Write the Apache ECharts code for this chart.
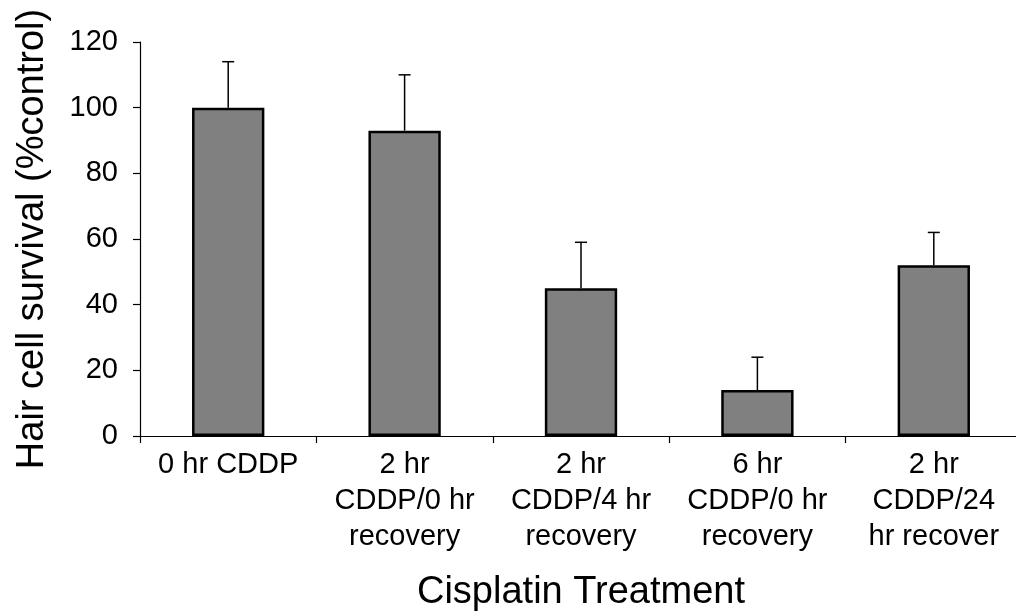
<!DOCTYPE html>
<html><head><meta charset="utf-8">
<script src="https://cdn.jsdelivr.net/npm/echarts@6/dist/echarts.min.js"></script>
<style>html,body{margin:0;padding:0;background:#fff}#c{width:1016px;height:614px}</style>
</head><body><div id="c"></div>
<script>
const categories = ["0 hr CDDP", "2 hr\nCDDP/0 hr\nrecovery", "2 hr\nCDDP/4 hr\nrecovery", "6 hr\nCDDP/0 hr\nrecovery", "2 hr\nCDDP/24\nhr recover"];
const means = [100, 93, 45, 14, 52];
const upperErr = [14, 17, 14, 10, 10];
const yTicks = [0, 20, 40, 60, 80, 100, 120];

const font = '"Liberation Sans", Arial, sans-serif';
const chart = echarts.init(document.getElementById('c'));
chart.setOption({
  animation: false,
  grid: {left: 140, width: 882, top: 42, height: 394, containLabel: false, outerBoundsMode: 'none'},
  xAxis: {
    type: 'category', data: categories,
    name: 'Cisplatin Treatment', nameLocation: 'middle', nameGap: 138,
    nameTextStyle: {fontFamily: font, fontSize: 38, color: '#000'},
    axisLine: {lineStyle: {color: '#000', width: 1.2}},
    axisTick: {show: true, length: 7, alignWithLabel: false, lineStyle: {color: '#000', width: 1.2}},
    axisLabel: {fontFamily: font, fontSize: 29, color: '#000', lineHeight: 36, margin: 11, interval: 0}
  },
  yAxis: {
    type: 'value', min: yTicks[0], max: yTicks[yTicks.length - 1], interval: 20,
    name: 'Hair cell survival (%control)', nameLocation: 'middle', nameGap: 88,
    nameTextStyle: {fontFamily: font, fontSize: 38, color: '#000'},
    axisLine: {show: true, lineStyle: {color: '#000', width: 1.2}},
    axisTick: {show: true, length: 7, lineStyle: {color: '#000', width: 1.2}},
    axisLabel: {fontFamily: font, fontSize: 29, color: '#000', margin: 22},
    splitLine: {show: false}
  },
  series: [
    {
      type: 'bar', data: means, barWidth: '41%',
      itemStyle: {color: '#808080', borderColor: '#000', borderWidth: 2.5},
      z: 2
    },
    {
      type: 'custom', z: 3,
      data: means.map((m, i) => [i, m, m + upperErr[i]]),
      renderItem: function (params, api) {
        const top = api.coord([api.value(0), api.value(2)]);
        const base = api.coord([api.value(0), api.value(1)]);
        const half = 6;
        return {
          type: 'group',
          children: [
            {type: 'line', shape: {x1: base[0], y1: base[1], x2: top[0], y2: top[1]}, style: {stroke: '#000', lineWidth: 1.5}},
            {type: 'line', shape: {x1: top[0] - half, y1: top[1], x2: top[0] + half, y2: top[1]}, style: {stroke: '#000', lineWidth: 1.5}}
          ]
        };
      }
    }
  ]
});
</script></body></html>
